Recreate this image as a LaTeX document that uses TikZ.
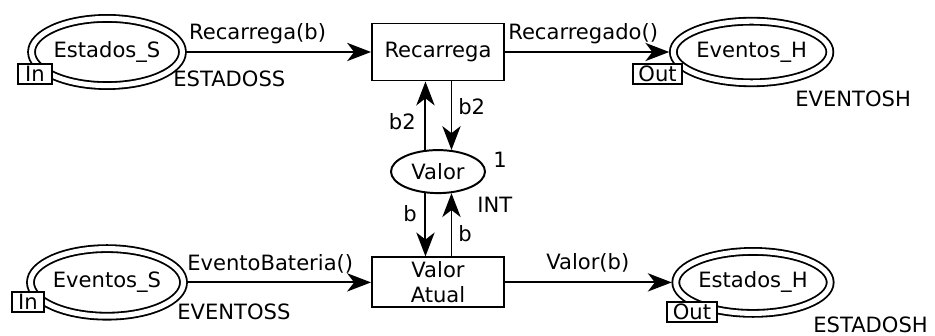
\documentclass[tikz,border=0pt]{standalone}
\usepackage{fontspec}
\setmainfont{DejaVu Sans}
\usetikzlibrary{arrows.meta,shapes.geometric}

\begin{document}
\begin{tikzpicture}[
    every node/.style={font=\fontsize{15}{18}\selectfont},
    place/.style={draw, ellipse, line width=1.4pt, inner sep=0pt, minimum width=2.35cm, minimum height=1.075cm},
    port/.style={draw, ellipse, line width=1.3pt, double, double distance=3.6pt, outer sep=2.9pt, inner sep=0pt},
    trans/.style={draw, rectangle, line width=1.4pt, inner xsep=2pt, inner ysep=1pt, minimum width=3.3cm, align=center},
    tag/.style={draw, fill=white, line width=1.3pt, inner sep=0pt, minimum height=0.5cm},
    lbl/.style={inner sep=0pt},
    arc/.style={->, line width=1.4pt},
    >={Stealth[length=17pt, width=13pt, inset=5pt]}
]
\useasboundingbox (0,0) rectangle (23.375,8.4);

% places and transitions
\node[port, minimum width=3.3cm, minimum height=1.68cm] (estS) at (2.675,7.1) {Estados\_S};
\node[trans, minimum height=1.425cm] (rec) at (10.95,7.1) {Recarrega};
\node[port, minimum width=3.85cm, minimum height=1.54cm] (evH) at (18.79,7.1) {Eventos\_H};
\node[place] (valor) at (10.95,4.11) {Valor};
\node[port, minimum width=3.34cm, minimum height=1.69cm] (evS) at (2.675,1.34) {Eventos\_S};
\node[trans, minimum height=1.25cm] (atual) at (10.95,1.34) {Valor\\Atual};
\node[port, minimum width=3.85cm, minimum height=1.55cm] (estH) at (18.825,1.34) {Estados\_H};

% port tags
\node[tag, minimum width=0.85cm] (inEst) at (0.875,6.56) {In};
\node[tag, minimum width=1.23cm] (outEv) at (16.44,6.55) {Out};
\node[tag, minimum width=0.8cm] (inEv) at (0.7,0.85) {In};
\node[tag, minimum width=1.25cm] (outEst) at (17.3,0.6) {Out};

% arcs
\draw[arc] (estS) -- (rec);
\draw[arc] (rec) -- (evH);
\draw[arc] (evS) -- (atual);
\draw[arc] (atual) -- (estH);
\draw[arc] (valor.120) -- (valor.120 |- rec.south);
\draw[arc] (valor.58 |- rec.south) -- (valor.58);
\draw[arc] (valor.240) -- (valor.240 |- atual.north);
\draw[arc] (valor.302 |- atual.north) -- (valor.302);

% inscriptions
\node[lbl, anchor=base] (lRec) at (6.44,7.41) {Recarrega(b)};
\node[lbl, anchor=base west] (lRecdo) at (12.7,7.42) {Recarregado()};
\node[lbl, anchor=base west] (tEstS) at (4.325,6.225) {ESTADOSS};
\node[lbl, anchor=base west] (tEvH) at (19.875,5.725) {EVENTOSH};
\node[lbl, anchor=base east] (lB2a) at (10.4,5.15) {b2};
\node[lbl, anchor=base west] (lB2b) at (11.45,5.525) {b2};
\node[lbl, anchor=base west] (mValor) at (12.325,4.2) {1};
\node[lbl, anchor=base west] (tValor) at (11.925,3.075) {INT};
\node[lbl, anchor=base east] (lBa) at (10.425,2.85) {b};
\node[lbl, anchor=base west] (lBb) at (11.45,2.35) {b};
\node[lbl, anchor=base west] (lEvBat) at (4.675,1.625) {EventoBateria()};
\node[lbl, anchor=base west] (tEvS) at (4.425,0.4) {EVENTOSS};
\node[lbl, anchor=base west] (lValB) at (13.65,1.65) {Valor(b)};
\node[lbl, anchor=base west] (tEstH) at (20.325,0.075) {ESTADOSH};
\end{tikzpicture}
\end{document}
